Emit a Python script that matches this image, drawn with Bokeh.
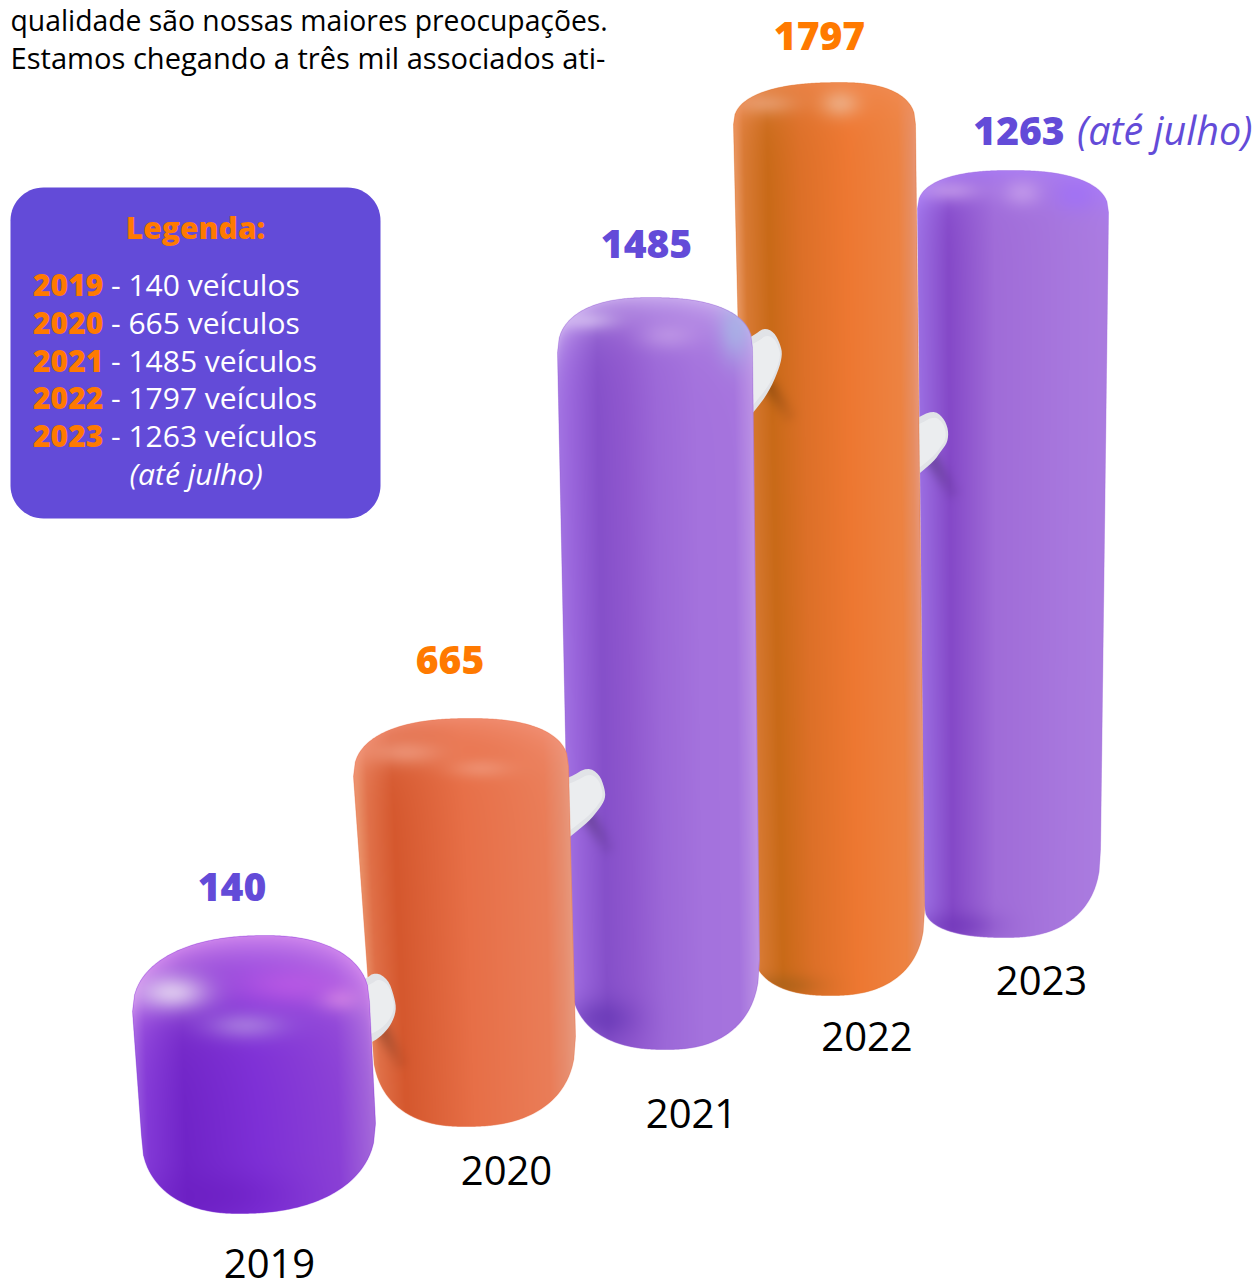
import numpy as np
from bokeh.core.properties import value
from bokeh.embed import file_html
from bokeh.models import ColumnDataSource, Range1d
from bokeh.plotting import figure
from bokeh.resources import INLINE

# Vehicles registered per year
years = ["2019", "2020", "2021", "2022", "2023"]
vehicles = [140, 665, 1485, 1797, 1263]
partial_note = "(até julho)"
intro_lines = ["qualidade são nossas maiores preocupações.",
               "Estamos chegando a três mil associados ati-"]
legend_title = "Legenda:"

WIDTH, HEIGHT = 1256, 1282
PURPLE, ORANGE = "#634bd8", "#ff7a00"
HEAVY = '"Open Sans ExtraBold"'


def Y(py):
    """Screen row to the figure's upward y coordinate."""
    return HEIGHT - py


# The columns recede into the scene, so each has its own vertical foreshortening.
CAP_HEIGHT, UNIT = 224.0, 0.383
COLUMNS = {
    "2019": dict(base=1213, depth=1.007, xl=(132, 141), xr=(369, 375), top_x=265, bot_x=238,
                 cap=(76, 66), foot=(78, 90), n=2.25, fall=38, cap_mix=0.88,
                 stops=[(0, "#9252dd"), (.04, "#8238d6"), (.2, "#7024c8"), (.5, "#7d2fd6"),
                        (.85, "#8a40d6"), (1, "#a468da")],
                 cap_color="#d890f0",
                 spots=[(172, 992, 26, 13, "#e6d6f2", .85), (245, 1025, 28, 10, "#ab7fe0", .8),
                        (340, 998, 15, 9, "#d58ae4", .7), (290, 985, 40, 14, "#c65ee8", .6),
                        (215, 1195, 50, 16, "#6a1cc0", .5)],
                 creases=[]),
    "2020": dict(base=1126, depth=0.7224, xl=(353, 372), xr=(568, 575), top_x=470, bot_x=465,
                 cap=(58, 48), foot=(85, 90), n=2.4, fall=24, cap_mix=0.7,
                 stops=[(0, "#ea9068"), (.05, "#e07048"), (.17, "#d5582e"), (.5, "#e76f47"),
                        (.88, "#ea7d58"), (.96, "#e78d6e"), (1, "#e8987c")],
                 cap_color="#f4957c",
                 spots=[(405, 752, 28, 9, "#f3a58c", .6), (480, 768, 22, 7, "#f2a389", .5)],
                 creases=[(383, 1032, 398, 1060, 6, .2)]),
    "2021": dict(base=1049, depth=0.9283, xl=(557, 570), xr=(752, 759), top_x=650, bot_x=665,
                 cap=(55, 50), foot=(75, 90), n=2.4, fall=22, cap_mix=0.88,
                 stops=[(0, "#a272e2"), (.06, "#9a66dc"), (.2, "#8650ca"), (.34, "#9058cf"),
                        (.5, "#9c68d8"), (.7, "#a472dd"), (.9, "#a674de"), (1, "#bc92e5")],
                 cap_color="#cdb0f0",
                 spots=[(735, 330, 12, 22, "#a7b4e6", .8), (585, 320, 22, 7, "#dcc8f4", .6),
                        (668, 335, 20, 10, "#c9a4ea", .55), (600, 1018, 24, 14, "#5c2fae", .55)],
                 creases=[(590, 820, 605, 845, 6, .2)]),
    "2022": dict(base=995, depth=1.001, xl=(733, 752), xr=(915, 924), top_x=840, bot_x=830,
                 cap=(42, 42), foot=(50, 85), n=2.4, fall=22, cap_mix=0.65,
                 stops=[(0, "#e89660"), (.05, "#d87a34"), (.18, "#c96a18"), (.36, "#dd7028"),
                        (.62, "#ee7832"), (.9, "#ed8342"), (.97, "#e78e62"), (1, "#e89678")],
                 cap_color="#f28e58",
                 spots=[(765, 103, 22, 8, "#eeaa84", .6), (840, 103, 14, 10, "#eeb48e", .75),
                        (780, 985, 26, 8, "#a5601a", .6)],
                 creases=[(770, 388, 787, 413, 6, .18)]),
    "2023": dict(base=937, depth=1.1226, xl=(917, 924), xr=(1108, 1100), top_x=1010, bot_x=1005,
                 cap=(38, 42), foot=(32, 88), n=2.4, fall=20, cap_mix=0.8,
                 stops=[(0, "#9b6ee2"), (.05, "#9563da"), (.16, "#8549c8"), (.4, "#a06cd8"),
                        (.8, "#a878de"), (1, "#ab7ce0")],
                 cap_color="#ab7ef8",
                 spots=[(950, 190, 22, 8, "#cfa8ee", .6), (1022, 192, 14, 10, "#c79fec", .7),
                        (1075, 195, 16, 12, "#a070f8", .7), (955, 925, 28, 10, "#6a30b4", .5)],
                 creases=[(933, 462, 950, 490, 6, .2)]),
}

# White stubs joining neighbouring columns; the far left corners stay hidden by the nearer column.
STUBS = {
    "2019": [(350, 985), (365, 980), (375, 973), (387, 980), (393, 997), (395, 1010),
             (390, 1023), (382, 1033), (372, 1040), (350, 1050)],
    "2020": [(550, 785), (570, 778), (587, 768), (598, 775), (603, 788), (604, 798),
             (598, 808), (588, 820), (572, 833), (550, 850)],
    "2021": [(735, 345), (753, 337), (763, 329), (773, 333), (779, 345), (781, 355),
             (777, 370), (768, 390), (755, 408), (735, 430)],
    "2022": [(895, 430), (915, 420), (932, 411), (942, 418), (947, 430), (946, 442),
             (940, 450), (933, 460), (915, 475), (895, 490)],
}


def hex_rgb(c):
    return np.array([int(c[i:i + 2], 16) for i in (1, 3, 5)], dtype=float)


def smooth_outline(points, rounds=2, grow=1.05):
    """Corner-cutting so a coarse outline turns into a soft closed curve."""
    pts = np.array(points, dtype=float)
    centre = pts.mean(axis=0)
    for _ in range(rounds):
        nxt = np.roll(pts, -1, axis=0)
        pts = np.vstack([0.75 * pts + 0.25 * nxt, 0.25 * pts + 0.75 * nxt])
        pts = pts[np.arange(len(pts)).reshape(2, -1).T.ravel()]
    return centre + (pts - centre) * grow


def cap_curve(x, x0, apex, x1, depth_l, depth_r, n=2.4):
    """Depth below the apex of a rounded end, for screen columns x."""
    t_l = np.clip((apex - x) / (apex - x0), 0, 1)
    t_r = np.clip((x - apex) / (x1 - apex), 0, 1)
    return np.where(x < apex,
                    depth_l * (1 - (1 - t_l ** n) ** (1 / n)),
                    depth_r * (1 - (1 - t_r ** n) ** (1 / n)))


def column_geometry(year, count):
    c = COLUMNS[year]
    top = c["base"] - (CAP_HEIGHT + count * UNIT * c["depth"])
    xt = np.linspace(c["xl"][0], c["xr"][0], 120)
    yt = top + cap_curve(xt, c["xl"][0], c["top_x"], c["xr"][0], *c["cap"], n=c["n"])
    xb = np.linspace(c["xr"][1], c["xl"][1], 120)
    yb = c["base"] - cap_curve(xb, c["xl"][1], c["bot_x"], c["xr"][1], *c["foot"], n=c["n"])
    return top, np.r_[xt, xb], np.r_[yt, yb]


def shade_column(year, top, px, py):
    """RGBA raster of the column: soft bands across it, lit top, spots and contact creases."""
    c = COLUMNS[year]
    x0, x1 = int(px.min()) - 1, int(px.max()) + 2
    y0, y1 = int(py.min()) - 1, int(py.max()) + 2
    cols = np.arange(x0, x1) + 0.5
    rows = np.arange(y0, y1) + 0.5
    X, R = np.meshgrid(cols, rows)

    # Horizontal coverage per scanline, averaged over sub-rows for smooth edges
    cover = np.zeros(X.shape)
    qx, qy = np.roll(px, -1), np.roll(py, -1)
    for j in range(len(rows)):
        for s in (0.125, 0.375, 0.625, 0.875):
            y = y0 + j + s
            hit = (py <= y) != (qy <= y)
            if hit.sum() < 2:
                continue
            cross = px[hit] + (y - py[hit]) / (qy[hit] - py[hit]) * (qx[hit] - px[hit])
            lo, hi = cross.min(), cross.max()
            cover[j] += np.clip(np.minimum(cols + .5, hi) - np.maximum(cols - .5, lo), 0, 1) / 4

    frac = np.clip((R - top) / (c["base"] - top), 0, 1)
    xl = c["xl"][0] + frac * (c["xl"][1] - c["xl"][0])
    xr = c["xr"][0] + frac * (c["xr"][1] - c["xr"][0])
    u = np.clip((X - xl) / (xr - xl), 0, 1)
    pos = [s[0] for s in c["stops"]]
    ramp = np.array([hex_rgb(s[1]) for s in c["stops"]])
    rgb = np.dstack([np.interp(u, pos, ramp[:, k]) for k in range(3)])

    rim = top + cap_curve(X, c["xl"][0], c["top_x"], c["xr"][0], *c["cap"], n=c["n"])
    lit = c["cap_mix"] * np.exp(-np.clip(R - rim, 0, None) / c["fall"])
    rgb = rgb * (1 - lit[..., None]) + hex_rgb(c["cap_color"]) * lit[..., None]

    for sx, sy, wx, wy, color, strength in c["spots"]:
        a = strength * np.exp(-((X - sx) / wx) ** 2 / 2 - ((R - sy) / wy) ** 2 / 2)
        rgb = rgb * (1 - a[..., None]) + hex_rgb(color) * a[..., None]

    for ax, ay, bx, by, w, strength in c["creases"]:
        dx, dy = bx - ax, by - ay
        s = np.clip(((X - ax) * dx + (R - ay) * dy) / (dx * dx + dy * dy), 0, 1)
        d2 = (X - ax - s * dx) ** 2 + (R - ay - s * dy) ** 2
        rgb *= 1 - (strength * (1 - 0.7 * s) * np.exp(-d2 / (2 * w * w)))[..., None]

    img = np.dstack([np.clip(rgb, 0, 255), 255 * cover]).astype(np.uint8)[::-1]
    return img.view(np.uint32).reshape(img.shape[:2]).copy(), x0, y1, x1 - x0, y1 - y0


p = figure(width=WIDTH, height=HEIGHT, output_backend="svg", toolbar_location=None,
           x_range=Range1d(0, WIDTH), y_range=Range1d(0, HEIGHT), min_border=0,
           background_fill_color="white", border_fill_color="white", outline_line_color=None)
p.axis.visible = False
p.grid.visible = False

# Columns are painted from the back of the scene to the front
for i in range(len(years) - 1, -1, -1):
    year = years[i]
    top, px, py = column_geometry(year, vehicles[i])
    p.patch(px, Y(py), fill_color=COLUMNS[year]["stops"][3][1], line_color=None)
    img, ix, iy, dw, dh = shade_column(year, top, px, py)
    p.image_rgba(image=[img], x=ix, y=Y(iy), dw=dw, dh=dh)
    # the stub of the column in front rests on this column
    if i > 0 and years[i - 1] in STUBS:
        stub = smooth_outline(STUBS[years[i - 1]])
        p.patch(stub[:, 0], Y(stub[:, 1]), fill_color="#e1e3e7", line_color=None)
        mid = stub.mean(axis=0)
        glow = mid + (stub - mid) * 0.75 + np.array([3, -2])
        p.patch(glow[:, 0], Y(glow[:, 1]), fill_color="#eeeff1", fill_alpha=0.8, line_color=None)


def label(x, py, text, size, color="black", font="Open Sans", style="normal", align="left"):
    # py is where the glyphs' foot sits; the SVG text anchor falls lower in proportion to its size
    src = ColumnDataSource(dict(x=[x], y=[Y(py - 0.41 * size)], t=[text]))
    p.text("x", "y", text="t", source=src, text_font=value(font), text_font_size=f"{size}px",
           text_font_style=style, text_color=color, text_align=align, text_baseline="alphabetic")


label(10, 31.5, intro_lines[0], 28.3)
label(10, 69, intro_lines[1], 29.1)

# Value over each column, year under it
value_pos = [(231.5, 902, PURPLE), (449.5, 675, ORANGE), (646, 259, PURPLE),
             (819, 51, ORANGE), (1018.5, 146, PURPLE)]
year_pos = [(269, 1279.5), (506, 1186.5), (691, 1129.5), (866.5, 1052.5), (1041, 996.5)]
for i, year in enumerate(years):
    vx, vy, vc = value_pos[i]
    label(vx, vy, str(vehicles[i]), 39, color=vc, font=HEAVY, align="center")
    yx, yy = year_pos[i]
    label(yx, yy, year, 40, align="center")
label(1076.5, 146, partial_note, 39.5, color=PURPLE, style="italic")

# Legend panel with rounded corners
r, bx0, bx1, by0, by1 = 33, 10, 380, 187, 518
arc = np.linspace(0, np.pi / 2, 16)
lx = np.r_[bx0 + r - r * np.cos(arc), bx1 - r + r * np.sin(arc),
           bx1 - r + r * np.cos(arc), bx0 + r - r * np.sin(arc)]
ly = np.r_[by0 + r - r * np.sin(arc), by0 + r - r * np.cos(arc),
           by1 - r + r * np.sin(arc), by1 - r + r * np.cos(arc)]
p.patch(lx, Y(ly), fill_color=PURPLE, line_color=None)

label(195, 239, legend_title, 30, color=ORANGE, font=HEAVY, align="center")
rows = [296, 334, 372, 409, 447]
for i, year in enumerate(years):
    label(32.5, rows[i] + 1, year, 30, color=ORANGE, font=HEAVY)
    label(110.5, rows[i], f"- {vehicles[i]} veículos", 30, color="white")
label(129, 485, partial_note, 30, color="white", style="italic")

open("out.html", "w").write(file_html(p, INLINE))
